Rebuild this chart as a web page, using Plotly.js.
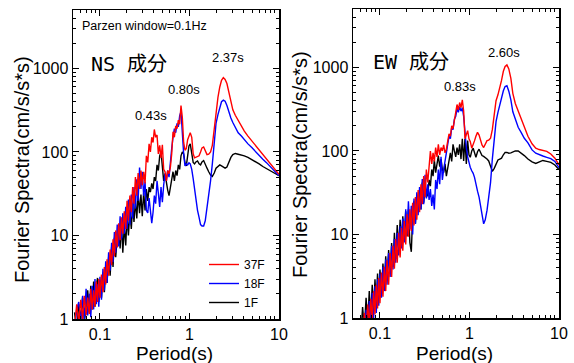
<!DOCTYPE html>
<html>
<head>
<meta charset="utf-8">
<script src="https://cdn.plot.ly/plotly-3.0.1.min.js"></script>
<style>html,body{margin:0;padding:0;background:#fff;}#chart{width:574px;height:363px;}</style>
</head>
<body>
<div id="chart"></div>
<script>
// ---- data ----
const period = [
  0.052, 0.055, 0.058, 0.061, 0.064, 0.067, 0.070, 0.073, 0.076, 0.079,
  0.082, 0.085, 0.088, 0.091, 0.094, 0.097, 0.100, 0.104, 0.108, 0.112,
  0.116, 0.120, 0.125, 0.130, 0.135, 0.140, 0.145, 0.150, 0.156, 0.162,
  0.168, 0.174, 0.180, 0.187, 0.194, 0.201, 0.208, 0.216, 0.224, 0.232,
  0.240, 0.249, 0.258, 0.267, 0.277, 0.287, 0.297, 0.308, 0.319, 0.330,
  0.342, 0.354, 0.366, 0.379, 0.392, 0.405, 0.419, 0.434, 0.449, 0.465,
  0.481, 0.498, 0.515, 0.533, 0.552, 0.571, 0.591, 0.612, 0.633, 0.655,
  0.678, 0.702, 0.726, 0.751, 0.777, 0.804, 0.832, 0.861, 0.891, 0.922,
  0.954, 0.987, 1.02, 1.06, 1.10, 1.14, 1.18, 1.23, 1.28, 1.33,
  1.38, 1.44, 1.50, 1.57, 1.64, 1.72, 1.80, 1.89, 1.98, 2.08,
  2.18, 2.28, 2.39, 2.50, 2.62, 2.75, 2.90, 3.05, 3.25, 3.5,
  3.8, 4.1, 4.5, 5.0, 5.5, 6.0, 6.6, 7.3, 8.1, 9.0, 10.0
];

const nsF37 = [
  0.8, 1.5, 0.9, 1.7, 1.0, 1.9, 1.1, 1.8, 1.15, 2.3,
  1.3, 2.2, 1.4, 2.8, 1.6, 3.0, 1.8, 3.4, 2.1, 4.2,
  2.6, 5.2, 3.3, 6.8, 4.4, 9.0, 5.6, 11.5, 7.2, 14,
  8.8, 16.5, 10.5, 19.5, 12, 26, 15, 30, 19, 38,
  24, 50, 30, 56, 36, 60, 40, 58, 42, 90,
  75, 125, 100, 150, 130, 186, 150, 160, 95, 120,
  85, 122, 62, 58, 45, 60, 55, 66, 95, 175,
  150, 205, 190, 240, 215, 360, 260, 130, 105, 110,
  140, 160, 170, 150, 95, 85, 86, 88, 90, 100,
  112, 115, 102, 93, 94, 100, 120, 190, 320, 450,
  600, 720, 776, 740, 660, 520, 390, 320, 275, 240,
  200, 178, 155, 135, 118, 103, 91, 80, 70, 62, 54
];
const nsF18 = [
  0.7, 1.3, 1.6, 0.9, 1.9, 1.0, 2.3, 1.1, 2.0, 1.05,
  2.5, 1.3, 3.0, 1.5, 2.6, 1.4, 3.2, 1.7, 4.0, 2.2,
  4.9, 2.7, 6.3, 3.8, 8.2, 4.8, 11, 6.2, 13.5, 7.4,
  17, 9, 18.5, 10.5, 22, 12, 27, 13.5, 31, 16,
  38, 21, 47, 26, 65, 36, 58, 30, 44, 20,
  18.6, 28, 20, 14, 19, 30, 24, 45, 32, 22,
  38, 25, 40, 55, 45, 60, 50, 80, 110, 150,
  190, 170, 220, 200, 270, 305, 160, 95, 68, 72,
  70, 74, 72, 62, 48, 36, 26, 20, 16.5, 13.5,
  13, 13, 15, 21, 30, 45, 72, 140, 220, 280,
  350, 400, 418, 405, 360, 300, 255, 225, 195, 170,
  155, 140, 125, 112, 100, 91, 82, 74, 66, 59, 52
];
const nsF1 = [
  1.2, 0.75, 1.5, 1.0, 1.8, 0.95, 1.3, 2.2, 1.2, 2.5,
  1.3, 2.8, 1.4, 2.5, 3.1, 1.6, 2.9, 1.8, 3.6, 2.1,
  4.4, 2.7, 5.5, 3.3, 7.2, 4.2, 9.4, 5.5, 9.6, 12.5,
  7.0, 14.5, 6.2, 13, 7.6, 17, 10, 20, 12, 24,
  14.5, 26, 16, 32, 18.5, 31, 17, 33, 20, 36,
  26, 38, 33, 42, 36, 50, 45, 70, 60, 90,
  100, 60, 45, 55, 40, 35, 30, 38, 42, 58,
  45, 60, 52, 70, 62, 90, 100, 95, 74, 68,
  90, 118, 125, 100, 75, 72, 76, 78, 72, 70,
  76, 79, 70, 64, 58, 53, 51, 56, 64, 68,
  70, 68, 66, 64, 66, 76, 86, 93, 96, 94,
  92, 90, 86, 81, 76, 72, 67, 63, 60, 56, 52
];

const ewF37 = [
  0.45, 0.7, 0.5, 0.9, 0.6, 1.15, 0.75, 1.45, 0.85, 1.7,
  0.95, 2.1, 1.1, 2.5, 1.3, 3.0, 1.5, 3.5, 1.8, 4.1,
  2.1, 4.9, 2.5, 6.0, 3.1, 7.3, 3.9, 8.8, 4.6, 10.5,
  5.3, 12, 6.4, 14.5, 7.6, 17.5, 9.4, 20, 11, 24,
  12.8, 28, 15, 34, 18.5, 40, 23, 50, 28, 60,
  42, 65, 100, 70, 95, 75, 110, 85, 120, 90,
  110, 100, 118, 95, 105, 130, 160, 150, 200, 185,
  250, 290, 360, 310, 380, 330, 410, 300, 140, 160,
  175, 140, 130, 108, 118, 133, 150, 167, 155, 135,
  118, 110, 122, 133, 135, 142, 180, 260, 400, 470,
  560, 700, 900, 1030, 1074, 960, 740, 490, 370, 300,
  235, 195, 150, 122, 108, 104, 101, 99, 92, 82, 68
];
const ewF18 = [
  0.45, 0.7, 0.85, 0.5, 1.0, 0.6, 1.25, 0.7, 1.6, 0.85,
  2.0, 1.0, 2.4, 1.15, 2.9, 1.4, 3.4, 1.75, 4.1, 2.1,
  5.0, 2.5, 6.0, 3.1, 7.3, 3.8, 8.8, 4.6, 10.5, 5.6,
  12.5, 6.8, 15.5, 8, 20, 10, 25, 11.5, 22, 10,
  27, 13.5, 32, 17, 37, 20, 46, 23, 52, 27,
  40, 26, 35, 22, 30, 20, 45, 35, 60, 40,
  85, 45, 60, 80, 95, 120, 150, 140, 190, 180,
  240, 260, 320, 290, 340, 300, 330, 260, 150, 110,
  85, 70, 64, 58, 54, 48, 39, 33, 28, 22,
  17, 13.4, 15, 19.4, 28, 42, 80, 140, 225, 290,
  355, 440, 525, 590, 603, 520, 410, 295, 235, 192,
  165, 142, 125, 103, 94, 90, 87, 84, 81, 75, 63
];
const ewF1 = [
  0.7, 0.55, 0.85, 0.6, 1.35, 0.75, 1.75, 0.9, 2.1, 1.05,
  2.5, 1.2, 2.9, 1.45, 3.4, 1.7, 3.8, 2.0, 4.5, 2.4,
  5.5, 2.9, 6.5, 3.4, 7.9, 4.1, 10.5, 5.1, 13, 6.6,
  15, 7.8, 16.5, 8.7, 19, 9.5, 20, 8, 6.2, 17,
  25, 13.5, 30, 22, 34, 20, 42, 24, 38, 28,
  30, 45, 38, 60, 50, 78, 55, 70, 88, 65,
  80, 60, 55, 70, 50, 62, 80, 95, 75, 120,
  100, 85, 110, 90, 120, 80, 140, 76, 140, 70,
  133, 90, 84, 100, 108, 95, 84, 98, 105, 96,
  88, 86, 84, 80, 76, 66, 57, 62, 70, 78,
  80, 82, 90, 96, 96, 94, 95, 97, 100, 100,
  94, 88, 80, 74, 71, 74, 77, 75, 73, 68, 60
];

const seriesNames = ['37F', '18F', '1F'];
const seriesColors = ['#ff0000', '#0000ff', '#000000'];

const xTickVals = [0.1, 1, 10];
const xTickText = ['0.1', '1', '10'];
const xMinorVals = [0.06, 0.07, 0.08, 0.09, 0.2, 0.3, 0.4, 0.5, 0.6, 0.7, 0.8, 0.9, 2, 3, 4, 5, 6, 7, 8, 9];
const yTickVals = [1, 10, 100, 1000];
const yTickText = ['1', '10', '100', '1000'];
const yMinorVals = [2, 3, 4, 5, 6, 7, 8, 9, 20, 30, 40, 50, 60, 70, 80, 90, 200, 300, 400, 500, 600, 700, 800, 900, 2000, 3000, 4000, 5000];

const peakLabelsNS = ['0.43s', '0.80s', '2.37s'];
const peakLabelsEW = ['0.83s', '2.60s'];

// ---- traces ----
const nsSets = [nsF37, nsF18, nsF1];
const ewSets = [ewF37, ewF18, ewF1];
const traces = [];
nsSets.forEach((vals, i) => traces.push({
  x: period, y: vals, xaxis: 'x', yaxis: 'y', type: 'scatter', mode: 'lines',
  name: seriesNames[i], line: {color: seriesColors[i], width: 1.4}, showlegend: true
}));
ewSets.forEach((vals, i) => traces.push({
  x: period, y: vals, xaxis: 'x2', yaxis: 'y2', type: 'scatter', mode: 'lines',
  name: seriesNames[i], line: {color: seriesColors[i], width: 1.4}, showlegend: false
}));
// black drawn first, red on top
const ordered = [traces[2], traces[1], traces[0], traces[5], traces[4], traces[3]];

function xAxis(domain, anchor) {
  return {
    type: 'log', domain: domain, anchor: anchor, range: [Math.log10(0.05), 1],
    tickmode: 'array', tickvals: xTickVals, ticktext: xTickText,
    ticks: 'inside', ticklen: 6, tickwidth: 1, tickcolor: '#000',
    minor: {tickmode: 'array', tickvals: xMinorVals, ticks: 'inside', ticklen: 3, tickwidth: 1, tickcolor: '#000', showgrid: false},
    showline: true, linecolor: '#000', linewidth: 1.5, mirror: 'allticks',
    showgrid: false, zeroline: false, tickfont: {size: 16, color: '#000'}, fixedrange: true
  };
}
function yAxis(domain, anchor) {
  return {
    type: 'log', domain: domain, anchor: anchor, range: [0, 3.7],
    tickmode: 'array', tickvals: yTickVals, ticktext: yTickText,
    ticks: 'inside', ticklen: 6, tickwidth: 1, tickcolor: '#000',
    minor: {tickmode: 'array', tickvals: yMinorVals, ticks: 'inside', ticklen: 3, tickwidth: 1, tickcolor: '#000', showgrid: false},
    showline: true, linecolor: '#000', linewidth: 1.5, mirror: 'allticks',
    showgrid: false, zeroline: false, tickfont: {size: 16, color: '#000'}, fixedrange: true
  };
}

const W = 574, H = 363;
const px = v => v / W;
const py = v => 1 - v / H;
const jp = '"DejaVu Sans Mono", "Noto Sans CJK JP", monospace';

const annotations = [
  {text: 'Parzen window=0.1Hz', x: px(80), y: py(26), xanchor: 'left', yanchor: 'middle', font: {size: 12.5}},
  {text: 'NS 成分', x: px(129), y: py(64), xanchor: 'center', yanchor: 'middle', font: {size: 20, family: jp}},
  {text: 'EW 成分', x: px(411), y: py(62), xanchor: 'center', yanchor: 'middle', font: {size: 20, family: jp}},
  {text: peakLabelsNS[0], x: px(151), y: py(115), xanchor: 'center', yanchor: 'middle', font: {size: 13}},
  {text: peakLabelsNS[1], x: px(184), y: py(89), xanchor: 'center', yanchor: 'middle', font: {size: 13}},
  {text: peakLabelsNS[2], x: px(228), y: py(57), xanchor: 'center', yanchor: 'middle', font: {size: 13}},
  {text: peakLabelsEW[0], x: px(460), y: py(87), xanchor: 'center', yanchor: 'middle', font: {size: 13}},
  {text: peakLabelsEW[1], x: px(504), y: py(52), xanchor: 'center', yanchor: 'middle', font: {size: 13}},
  {text: 'Fourier Spectra(cm/s/s*s)', x: px(22), y: py(170), textangle: -90, xanchor: 'center', yanchor: 'middle', font: {size: 20}},
  {text: 'Fourier Spectra(cm/s/s*s)', x: px(300), y: py(165), textangle: -90, xanchor: 'center', yanchor: 'middle', font: {size: 20}},
  {text: 'Period(s)', x: px(174), y: py(353), xanchor: 'center', yanchor: 'middle', font: {size: 19}},
  {text: 'Period(s)', x: px(454), y: py(353), xanchor: 'center', yanchor: 'middle', font: {size: 19}}
].map(a => Object.assign({xref: 'paper', yref: 'paper', showarrow: false}, a));

const layout = {
  width: W, height: H,
  margin: {l: 0, r: 0, t: 0, b: 0},
  paper_bgcolor: '#fff', plot_bgcolor: '#fff',
  font: {family: '"Liberation Sans", Arial, sans-serif', color: '#000'},
  xaxis: xAxis([px(73), px(279)], 'y'),
  yaxis: yAxis([py(319), py(10)], 'x'),
  xaxis2: xAxis([px(353), px(559)], 'y2'),
  yaxis2: yAxis([py(318), py(9)], 'x2'),
  showlegend: true,
  legend: {
    x: px(204), y: py(250), xanchor: 'left', yanchor: 'top',
    bgcolor: 'rgba(0,0,0,0)', borderwidth: 0, font: {size: 12},
    traceorder: 'reversed', itemwidth: 30, tracegroupgap: 0
  },
  annotations: annotations
};

Plotly.newPlot('chart', ordered, layout, {staticPlot: true, displayModeBar: false});
</script>
</body>
</html>
